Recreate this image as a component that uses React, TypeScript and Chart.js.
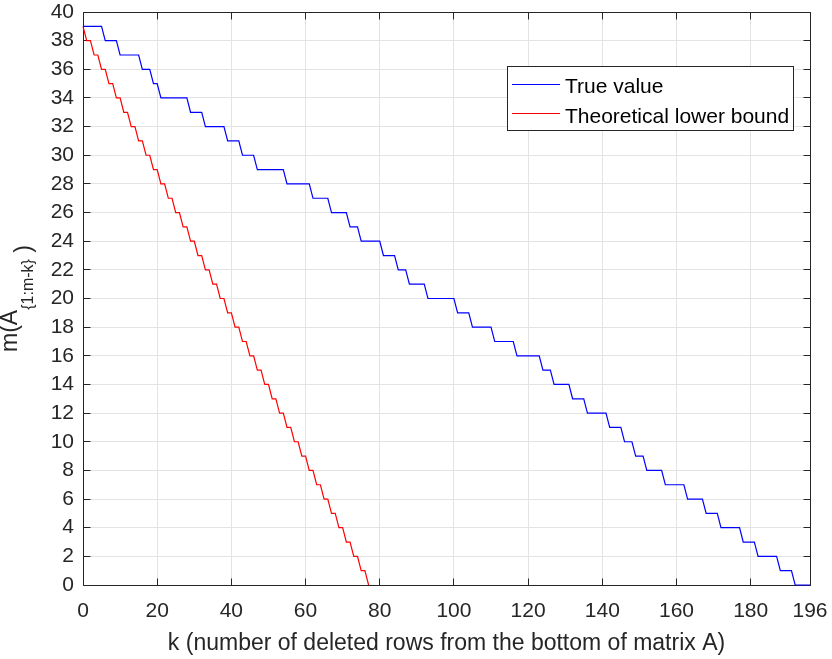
import React, { useEffect, useRef } from "react";
import { Chart, registerables } from "chart.js";

Chart.register(...registerables);

// ---- data ----
// "True value": corner points of the step curve (k, m)
const blueK = [
  0, 5, 6, 9, 10, 15, 16, 18, 19, 20, 21, 28, 29, 32, 33, 38, 39, 42, 43, 46,
  47, 54, 55, 61, 62, 66, 67, 71, 72, 74, 75, 80, 81, 84, 85, 87, 88, 92, 93, 100,
  101, 104, 105, 110, 111, 116, 117, 123, 124, 126, 127, 131, 132, 135, 136, 141, 142, 145, 146, 148,
  149, 151, 152, 156, 157, 162, 163, 167, 168, 171, 172, 177, 178, 181, 182, 187, 188, 191, 192, 196,
];
const blueV = [
  39, 39, 38, 38, 37, 37, 36, 36, 35, 35, 34, 34, 33, 33, 32, 32, 31, 31, 30, 30,
  29, 29, 28, 28, 27, 27, 26, 26, 25, 25, 24, 24, 23, 23, 22, 22, 21, 21, 20, 20,
  19, 19, 18, 18, 17, 17, 16, 16, 15, 15, 14, 14, 13, 13, 12, 12, 11, 11, 10, 10,
  9, 9, 8, 8, 7, 7, 6, 6, 5, 5, 4, 4, 3, 3, 2, 2, 1, 1, 0, 0,
];
// "Theoretical lower bound": value for k = 0, 1, 2, ... 77
const redV = [
  39, 38, 38, 37, 37, 36, 36, 35, 35, 34, 34, 33, 33, 32, 32, 31, 31, 30, 30, 29,
  29, 28, 28, 27, 27, 26, 26, 25, 25, 24, 24, 23, 23, 22, 22, 21, 21, 20, 20, 19,
  19, 18, 18, 17, 17, 16, 16, 15, 15, 14, 14, 13, 13, 12, 12, 11, 11, 10, 10, 9,
  9, 8, 8, 7, 7, 6, 6, 5, 5, 4, 4, 3, 3, 2, 2, 1, 1, 0,
];
const seriesNames = ["True value", "Theoretical lower bound"];
const seriesColors = ["#0000ff", "#ff0000"];
const xTicks = [0, 20, 40, 60, 80, 100, 120, 140, 160, 180, 196];
const yTicks = [0, 2, 4, 6, 8, 10, 12, 14, 16, 18, 20, 22, 24, 26, 28, 30, 32, 34, 36, 38, 40];
const xTitle = "k (number of deleted rows from the bottom of matrix A)";
const yTitleMain = "m(A";
const yTitleSub = "{1:m-k}";
const yTitleEnd = " )";

const FONT = "'Liberation Sans', Arial, Helvetica, sans-serif";
const AXIS_COLOR = "#262626";
const GRID_COLOR = "#e3e3e3";

const decorPlugin = {
  id: "decor",
  beforeDatasetsDraw(chart: any) {
    const { ctx, chartArea: a, scales } = chart;
    const al = (v: number) => Math.floor(v) + 0.5;
    ctx.save();
    ctx.strokeStyle = AXIS_COLOR;
    ctx.lineWidth = 1;
    const L = al(a.left), R = al(a.right), T = al(a.top), B = al(a.bottom);
    ctx.beginPath();
    ctx.rect(L, T, R - L, B - T);
    const tl = 7;
    for (const v of xTicks) {
      const px = al(scales.x.getPixelForValue(v));
      ctx.moveTo(px, B); ctx.lineTo(px, B - tl);
      ctx.moveTo(px, T); ctx.lineTo(px, T + tl);
    }
    for (const v of yTicks) {
      const py = al(scales.y.getPixelForValue(v));
      ctx.moveTo(L, py); ctx.lineTo(L + tl, py);
      ctx.moveTo(R, py); ctx.lineTo(R - tl, py);
    }
    ctx.stroke();
    ctx.restore();
  },
  afterDraw(chart: any) {
    const { ctx, chartArea: a } = chart;
    ctx.save();
    ctx.fillStyle = AXIS_COLOR;
    // x title
    ctx.font = `23px ${FONT}`;
    ctx.textAlign = "center";
    ctx.textBaseline = "alphabetic";
    ctx.fillText(xTitle, (a.left + a.right) / 2, 650);
    // y title with subscript
    ctx.save();
    const cy = (a.top + a.bottom) / 2;
    ctx.translate(17, cy);
    ctx.rotate(-Math.PI / 2);
    ctx.textAlign = "left";
    const mainFont = `23px ${FONT}`;
    const subFont = `16px ${FONT}`;
    ctx.font = mainFont;
    const w1 = ctx.measureText(yTitleMain).width;
    const w3 = ctx.measureText(yTitleEnd).width;
    ctx.font = subFont;
    const w2 = ctx.measureText(yTitleSub).width;
    const start = -(w1 + w2 + w3) / 2;
    ctx.font = mainFont;
    ctx.fillText(yTitleMain, start, 0);
    ctx.font = subFont;
    ctx.fillText(yTitleSub, start + w1, 16);
    ctx.font = mainFont;
    ctx.fillText(yTitleEnd, start + w1 + w2, 14);
    ctx.restore();
    // legend
    const bx = 507.5, by = 66.5, bw = 286, bh = 64;
    ctx.fillStyle = "#ffffff";
    ctx.fillRect(bx, by, bw, bh);
    ctx.strokeStyle = AXIS_COLOR;
    ctx.lineWidth = 1;
    ctx.strokeRect(bx, by, bw, bh);
    ctx.font = `21px ${FONT}`;
    ctx.textAlign = "left";
    ctx.textBaseline = "alphabetic";
    const rows = [84.5, 113.5];
    const bases = [93, 122.5];
    seriesNames.forEach((name, i) => {
      ctx.strokeStyle = seriesColors[i];
      ctx.lineWidth = 1.2;
      ctx.beginPath();
      ctx.moveTo(512, rows[i]);
      ctx.lineTo(560, rows[i]);
      ctx.stroke();
      ctx.fillStyle = "#000000";
      ctx.fillText(name, 565, bases[i]);
    });
    ctx.restore();
  },
};

export default function App() {
  const ref = useRef<HTMLCanvasElement | null>(null);
  useEffect(() => {
    document.body.style.margin = "0";
    const canvas = ref.current;
    if (!canvas) return;
    const blueData = blueK.map((k, i) => ({ x: k, y: blueV[i] }));
    const redData = redV.map((v, k) => ({ x: k, y: v }));
    const chart = new Chart(canvas, {
      type: "line",
      data: {
        datasets: [
          {
            label: seriesNames[0],
            data: blueData,
            borderColor: seriesColors[0],
            borderWidth: 1.2,
            pointRadius: 0,
            tension: 0,
            fill: false,
            clip: false as any,
          },
          {
            label: seriesNames[1],
            data: redData,
            borderColor: seriesColors[1],
            borderWidth: 1.2,
            pointRadius: 0,
            tension: 0,
            fill: false,
            clip: false as any,
          },
        ],
      },
      options: {
        animation: false,
        responsive: false,
        devicePixelRatio: 1,
        events: [],
        layout: { padding: { left: 0, right: 22, top: 12, bottom: 0 } },
        plugins: { legend: { display: false }, tooltip: { enabled: false } },
        scales: {
          x: {
            type: "linear",
            min: 0,
            max: 196,
            afterBuildTicks: (s: any) => {
              s.ticks = xTicks.map((v) => ({ value: v }));
            },
            afterFit: (s: any) => {
              s.height = 74;
              s.paddingLeft = 0;
              s.paddingRight = 0;
            },
            grid: { color: GRID_COLOR, drawTicks: false, lineWidth: 1 },
            border: { display: false },
            ticks: {
              font: { family: FONT, size: 21 },
              color: AXIS_COLOR,
              padding: 14,
              maxRotation: 0,
              autoSkip: false,
            },
          },
          y: {
            type: "linear",
            min: 0,
            max: 40,
            afterBuildTicks: (s: any) => {
              s.ticks = yTicks.map((v) => ({ value: v }));
            },
            afterFit: (s: any) => {
              s.width = 83;
              s.paddingTop = 0;
              s.paddingBottom = 0;
            },
            grid: { color: GRID_COLOR, drawTicks: false, lineWidth: 1 },
            border: { display: false },
            ticks: {
              font: { family: FONT, size: 21 },
              color: AXIS_COLOR,
              padding: 9,
              autoSkip: false,
            },
          },
        },
      },
      plugins: [decorPlugin],
    });
    return () => chart.destroy();
  }, []);
  return (
    <div style={{ width: 832, height: 659 }}>
      <canvas ref={ref} width={832} height={659} style={{ display: "block" }} />
    </div>
  );
}
